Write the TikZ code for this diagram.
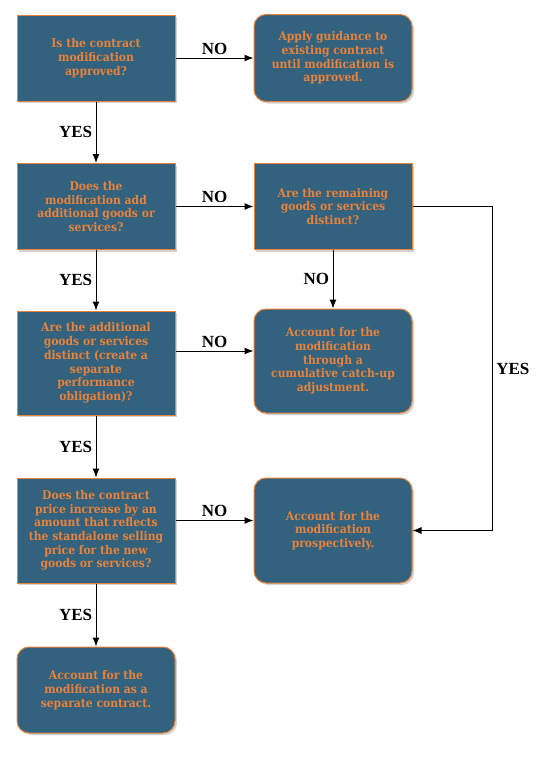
\documentclass[tikz,border=0pt]{standalone}
\usepackage{fontspec}
\setmainfont{DejaVu Serif Condensed}
\newfontfamily\answerfont{Liberation Serif}
\usetikzlibrary{positioning,shadows,arrows.meta}
\definecolor{boxblue}{HTML}{33627E}
\definecolor{boxorange}{HTML}{E8823A}

\begin{document}
\begin{tikzpicture}[x=1pt, y=-1pt,
  question/.style={rectangle, draw=boxorange, fill=boxblue, line width=1pt, minimum width=158pt, minimum height=86pt, align=center, text=boxorange, font=\bfseries\fontsize{12}{13.7}\selectfont, drop shadow={opacity=0.35, shadow xshift=2pt, shadow yshift=-2pt}},
  outcome/.style={question, rounded corners=12pt},
  arrow/.style={-{Latex[length=9pt, width=7pt]}, line width=1pt},
  answer/.style={font=\answerfont\bfseries\fontsize{17}{17}\selectfont, text=black}
]
\useasboundingbox (0,0) rectangle (544,758);

% --- LEFT COLUMN: QUESTIONS ---
\node[question] (q1) at (96,58) {Is the contract\\modification\\approved?};
\node[question] (q2) at (96,206.5) {Does the\\modification add\\additional goods or\\services?};
\node[question, minimum height=104pt] (q4) at (96,363) {Are the additional\\goods or services\\distinct (create a\\separate\\performance\\obligation)?};
\node[question, minimum height=105pt] (q5) at (96,530.5) {Does the contract\\price increase by an\\amount that reflects\\the standalone selling\\price for the new\\goods or services?};
\node[outcome] (o4) at (96,690) {Account for the\\modification as a\\separate contract.};

% --- RIGHT COLUMN ---
\node[outcome, minimum height=87pt] (o1) at (333,58) {Apply guidance to\\existing contract\\until modification is\\approved.};
\node[question] (q3) at (333,206.5) {Are the remaining\\goods or services\\distinct?};
\node[outcome, minimum height=104pt] (o2) at (333,361) {Account for the\\modification\\through a\\cumulative catch-up\\adjustment.};
\node[outcome, minimum height=105pt] (o3) at (333,530.5) {Account for the\\modification\\prospectively.};

% YES answers down the left column
\foreach \a/\b in {q1/q2, q2/q4, q4/q5, q5/o4} {
  \draw[arrow] (\a.south) -- node[answer, left] {YES} (\b.north);
}

% NO answers to the right
\draw[arrow] (q1.east) -- node[answer, above] {NO} (o1.west);
\draw[arrow] (q2.east) -- node[answer, above] {NO} (q3.west);
\draw[arrow] ([yshift=12pt]q4.east) -- node[answer, above] {NO} ([yshift=10pt]o2.west);
\draw[arrow] ([yshift=10pt]q5.east) -- node[answer, above] {NO} ([yshift=10pt]o3.west);
\draw[arrow] (q3.south) -- node[answer, left] {NO} (o2.north);

% remaining goods distinct
\draw[arrow] (q3.east) -- ++(80,0) |- node[answer, right, pos=0.25] {YES} (o3.east);

\end{tikzpicture}
\end{document}
